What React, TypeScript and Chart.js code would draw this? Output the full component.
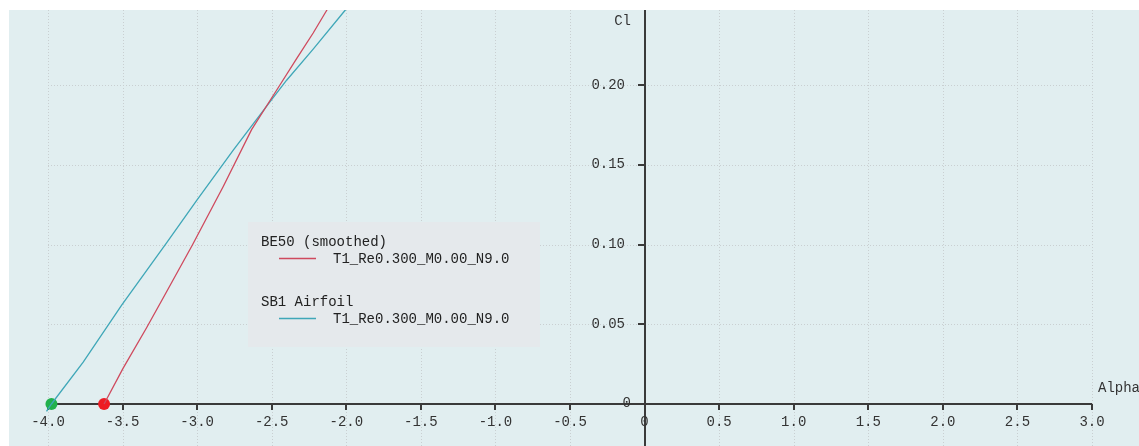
import { useEffect, useRef } from "react";
import { Chart, registerables } from "chart.js";

Chart.register(...registerables);

// Lift curves Cl(alpha) near zero lift
const beAlpha = [-3.624, -3.496, -3.339, -3.216, -3.03, -2.825, -2.635, -2.445, -2.333, -2.222, -2.132, -2.0];
const beCl = [0.0, 0.0225, 0.0478, 0.0685, 0.1, 0.1364, 0.172, 0.2, 0.2165, 0.2326, 0.2467, 0.266];

const sbAlpha = [-4.01, -3.977, -3.764, -3.506, -3.205, -3.004, -2.759, -2.535, -2.4, -2.222, -2.009, -1.95];
const sbCl = [-0.0046, 0.0, 0.0262, 0.062, 0.101, 0.1275, 0.159, 0.1866, 0.203, 0.2225, 0.2467, 0.2535];

// Zero-lift angles
const beZeroAlpha = -3.624;
const sbZeroAlpha = -3.977;

const xTicks = [-4, -3.5, -3, -2.5, -2, -1.5, -1, -0.5, 0, 0.5, 1, 1.5, 2, 2.5, 3];
const xTickLabels = ["-4.0", "-3.5", "-3.0", "-2.5", "-2.0", "-1.5", "-1.0", "-0.5", "0", "0.5", "1.0", "1.5", "2.0", "2.5", "3.0"];
const yTicks = [0.05, 0.1, 0.15, 0.2];
const yTickLabels = ["0.05", "0.10", "0.15", "0.20"];

const xTitle = "Alpha";
const yTitle = "Cl";

const legendFoils = ["BE50 (smoothed)", "SB1 Airfoil"];
const legendPolars = ["T1_Re0.300_M0.00_N9.0", "T1_Re0.300_M0.00_N9.0"];

const RED = "#cf4a5e";
const TEAL = "#3fa7b8";
const BG = "#e1eef0";
const FONT = '14px "Liberation Mono", monospace';

const frame = {
  id: "frame",
  beforeDraw(chart: any) {
    const { ctx, chartArea: a } = chart;
    ctx.save();
    ctx.fillStyle = BG;
    ctx.fillRect(a.left, a.top, a.right - a.left, a.bottom - a.top);
    ctx.restore();
  },
  beforeDatasetsDraw(chart: any) {
    const { ctx, chartArea: a } = chart;
    const xs = chart.scales.x;
    const ys = chart.scales.y;
    const x0 = Math.round(xs.getPixelForValue(0));
    const y0 = Math.round(ys.getPixelForValue(0));
    const xL = Math.round(xs.getPixelForValue(xTicks[0]));
    const xR = Math.round(xs.getPixelForValue(xTicks[xTicks.length - 1]));

    ctx.save();
    // dotted grid
    ctx.setLineDash([1, 2]);
    ctx.strokeStyle = "#c9cfd1";
    ctx.lineWidth = 1;
    xTicks.forEach((v) => {
      if (v === 0) return;
      const px = Math.round(xs.getPixelForValue(v)) + 0.5;
      ctx.beginPath();
      ctx.moveTo(px, a.top);
      ctx.lineTo(px, a.bottom);
      ctx.stroke();
    });
    yTicks.forEach((v) => {
      const py = Math.round(ys.getPixelForValue(v)) + 0.5;
      ctx.beginPath();
      ctx.moveTo(xL, py);
      ctx.lineTo(xR, py);
      ctx.stroke();
    });

    // axes through the origin
    ctx.setLineDash([]);
    ctx.strokeStyle = "#3a3a3a";
    ctx.lineWidth = 2;
    ctx.beginPath();
    ctx.moveTo(xL, y0);
    ctx.lineTo(xR, y0);
    ctx.stroke();
    ctx.beginPath();
    ctx.moveTo(x0, a.top);
    ctx.lineTo(x0, a.bottom);
    ctx.stroke();

    // tick marks
    ctx.lineWidth = 2;
    xTicks.forEach((v) => {
      if (v === 0) return;
      const px = Math.round(xs.getPixelForValue(v));
      ctx.beginPath();
      ctx.moveTo(px, y0);
      ctx.lineTo(px, y0 + 6);
      ctx.stroke();
    });
    yTicks.forEach((v) => {
      const py = Math.round(ys.getPixelForValue(v));
      ctx.beginPath();
      ctx.moveTo(x0 - 7, py);
      ctx.lineTo(x0, py);
      ctx.stroke();
    });

    // tick labels
    ctx.font = FONT;
    ctx.fillStyle = "#333333";
    ctx.textAlign = "center";
    ctx.textBaseline = "middle";
    xTicks.forEach((v, i) => {
      ctx.fillText(xTickLabels[i], xs.getPixelForValue(v), y0 + 18);
    });
    ctx.textAlign = "right";
    yTicks.forEach((v, i) => {
      ctx.fillText(yTickLabels[i], x0 - 20, ys.getPixelForValue(v));
    });
    ctx.fillText("0", x0 - 14, y0 - 1);

    // axis titles
    ctx.fillText(yTitle, x0 - 14, a.top + 11);
    ctx.textAlign = "left";
    ctx.fillText(xTitle, xR + 6, y0 - 16);
    ctx.restore();
  },
  afterDatasetsDraw(chart: any) {
    const { ctx } = chart;
    const colors = [RED, TEAL];
    const bx = 248;
    const by = 222;
    ctx.save();
    ctx.fillStyle = "#e5e9ec";
    ctx.fillRect(bx, by, 292, 125);
    ctx.font = FONT;
    ctx.textBaseline = "middle";
    ctx.textAlign = "left";
    legendFoils.forEach((name, i) => {
      const top = by + 20 + i * 60;
      ctx.fillStyle = "#222222";
      ctx.fillText(name, bx + 13, top);
      ctx.fillText(legendPolars[i], bx + 85, top + 17);
      ctx.strokeStyle = colors[i];
      ctx.lineWidth = 1.3;
      ctx.beginPath();
      ctx.moveTo(bx + 31, top + 16.5);
      ctx.lineTo(bx + 68, top + 16.5);
      ctx.stroke();
    });
    ctx.restore();
  },
};

export default function App() {
  const canvasRef = useRef<HTMLCanvasElement | null>(null);

  useEffect(() => {
    const canvas = canvasRef.current;
    if (!canvas) return;
    const pxPerX = 1044 / 7;
    const pxPerY = 1595;
    const chart = new Chart(canvas, {
      type: "scatter",
      data: {
        datasets: [
          {
            label: legendFoils[0],
            data: beAlpha.map((x, i) => ({ x, y: beCl[i] })),
            showLine: true,
            borderColor: RED,
            borderWidth: 1.3,
            pointRadius: 0,
            tension: 0,
          },
          {
            label: legendFoils[1],
            data: sbAlpha.map((x, i) => ({ x, y: sbCl[i] })),
            showLine: true,
            borderColor: TEAL,
            borderWidth: 1.3,
            pointRadius: 0,
            tension: 0,
          },
          {
            label: "zero lift BE50",
            data: [{ x: beZeroAlpha, y: 0 }],
            pointRadius: 6,
            backgroundColor: "#ed1c24",
            borderWidth: 0,
          },
          {
            label: "zero lift SB1",
            data: [{ x: sbZeroAlpha, y: 0 }],
            pointRadius: 6,
            backgroundColor: "#22b14c",
            borderWidth: 0,
          },
        ],
      },
      options: {
        responsive: false,
        maintainAspectRatio: false,
        devicePixelRatio: 1,
        animation: false,
        events: [],
        layout: { autoPadding: false, padding: { left: 9, top: 10, right: 0, bottom: 0 } },
        plugins: { legend: { display: false }, tooltip: { enabled: false } },
        scales: {
          x: {
            type: "linear",
            display: false,
            min: -4 - 39 / pxPerX,
            max: 3 + 47 / pxPerX,
          },
          y: {
            type: "linear",
            display: false,
            min: -42 / pxPerY,
            max: 394 / pxPerY,
          },
        },
      },
      plugins: [frame],
    });
    return () => chart.destroy();
  }, []);

  return (
    <div style={{ position: "absolute", left: 0, top: 0, width: 1139, height: 446, background: "#ffffff" }}>
      <canvas ref={canvasRef} width={1139} height={446} style={{ display: "block" }} />
    </div>
  );
}
